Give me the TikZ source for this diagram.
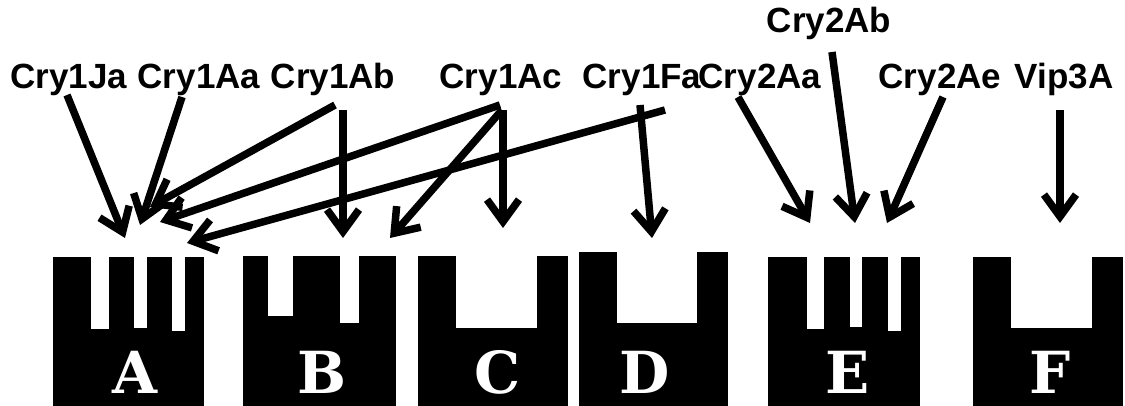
\documentclass[tikz,border=0pt]{standalone}
\usepackage{fontspec}
\setmainfont{Liberation Sans}
\newfontfamily\letterfont{DejaVu Serif}
\usetikzlibrary{arrows.meta}
\tikzset{
  lbl/.style={font=\fontsize{35}{40}\selectfont\bfseries, anchor=base, inner sep=0pt},
  blk/.style={fill=black},
  slot/.style={fill=white},
  letter/.style={text=white, font=\letterfont\fontsize{58}{60}\selectfont\bfseries, anchor=base, inner sep=0pt},
  arr/.style={line width=7.5pt, -{Straight Barb[length=22pt, width=32pt, line width=7.5pt]}},
}
\begin{document}
\begin{tikzpicture}[x=1pt, y=-1pt]
\useasboundingbox (0,0) rectangle (1125,406);
% blocks
\fill[blk] (53,257) rectangle (204,406);
\fill[slot] (91,250) rectangle (109,329);
\fill[slot] (134,250) rectangle (147,328);
\fill[slot] (172,250) rectangle (185,331);
\fill[blk] (243,256) rectangle (396,406);
\fill[slot] (268,250) rectangle (293,316);
\fill[slot] (340,250) rectangle (359,323);
\fill[blk] (418,256) rectangle (568,406);
\fill[slot] (456,250) rectangle (537,328);
\fill[blk] (579,252) rectangle (728,406);
\fill[slot] (617,245) rectangle (697,323);
\fill[blk] (768,257) rectangle (920,406);
\fill[slot] (807,250) rectangle (824,329);
\fill[slot] (850,250) rectangle (862,327);
\fill[slot] (888,250) rectangle (901,331);
\fill[blk] (973,257) rectangle (1123,406);
\fill[slot] (1011,250) rectangle (1092,328);
% letters
\node[letter] (LA) at (135,393) {A};
\node[letter] (LB) at (322,393) {B};
\node[letter] (LC) at (498,393) {C};
\node[letter] (LD) at (645,393) {D};
\node[letter] (LE) at (848,393) {E};
\node[letter] (LF) at (1050,393) {F};
% labels
\node[lbl] (ja) at (69,89) {Cry1Ja};
\node[lbl] (aa) at (199,89) {Cry1Aa};
\node[lbl] (ab) at (333,89) {Cry1Ab};
\node[lbl] (ac) at (501,89) {Cry1Ac};
\node[lbl] (fa) at (642,89) {Cry1Fa};
\node[lbl] (twoaa) at (760,89) {Cry2Aa};
\node[lbl] (twoab) at (829,33) {Cry2Ab};
\node[lbl] (twoae) at (940,89) {Cry2Ae};
\node[lbl] (vip) at (1064,89) {Vip3A};
% start points
\coordinate (sja) at (67,95);
\coordinate (saa) at (182,97);
\coordinate (sabA) at (335,105);
\coordinate (sabB) at (343,110);
\coordinate (sacA) at (500,105);
\coordinate (sacB) at (502,110);
\coordinate (sacC) at (503,110);
\coordinate (sfaA) at (665,110);
\coordinate (sfaD) at (640,105);
\coordinate (s2aa) at (738,97);
\coordinate (s2ab) at (832,52);
\coordinate (s2ae) at (943,97);
\coordinate (svip) at (1060,110);
% tips
\coordinate (tja) at (125,238);
\coordinate (taa) at (140,225);
\coordinate (tabA) at (150,207);
\coordinate (tacA) at (160,222);
\coordinate (tfaA) at (187,243);
\coordinate (tabB) at (343,238);
\coordinate (tacB) at (390,238);
\coordinate (tacC) at (503,228);
\coordinate (tfaD) at (652,238);
\coordinate (t2aa) at (810,223);
\coordinate (t2ab) at (855,223);
\coordinate (t2ae) at (887,223);
\coordinate (tvip) at (1060,223);
% arrows
\draw[arr] (sja) -- (tja);
\draw[arr] (saa) -- (taa);
\draw[arr] (sabA) -- (tabA);
\draw[arr] (sacA) -- (tacA);
\draw[arr] (sfaA) -- (tfaA);
\draw[arr] (sabB) -- (tabB);
\draw[arr] (sacB) -- (tacB);
\draw[arr] (sacC) -- (tacC);
\draw[arr] (sfaD) -- (tfaD);
\draw[arr] (s2aa) -- (t2aa);
\draw[arr] (s2ab) -- (t2ab);
\draw[arr] (s2ae) -- (t2ae);
\draw[arr] (svip) -- (tvip);
\end{tikzpicture}
\end{document}
